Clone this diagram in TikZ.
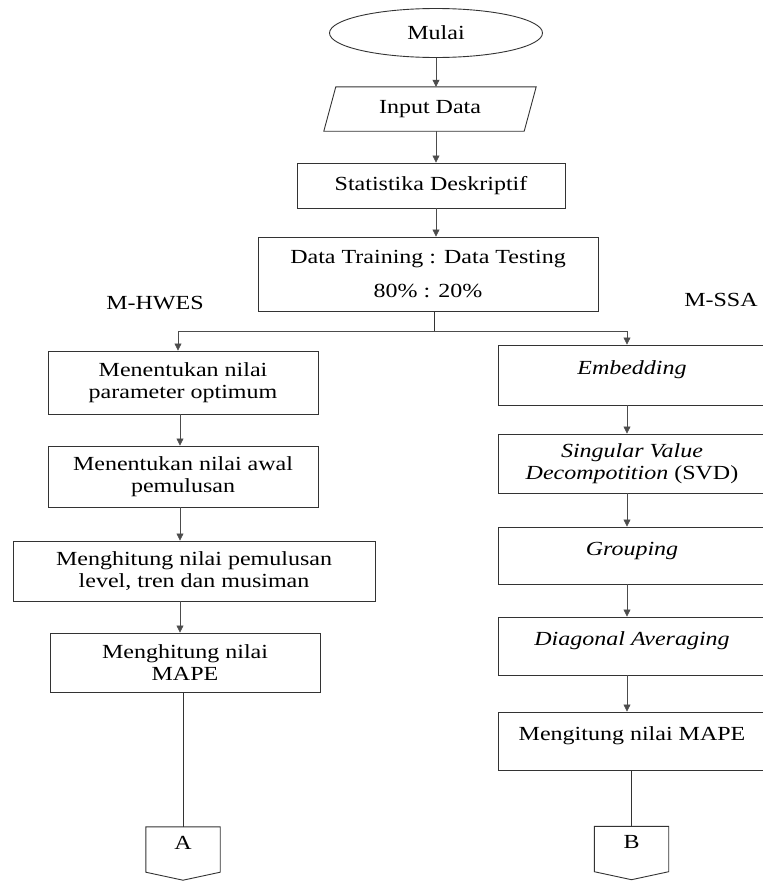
\documentclass[tikz,border=0pt]{standalone}
\usepackage{fontspec}
\setmainfont{Liberation Serif}[FakeStretch=1.2]
\usetikzlibrary{shapes.geometric,arrows.meta,calc}
\begin{document}
\begin{tikzpicture}[x=1pt,y=-1pt,
  every node/.style={font=\fontsize{20}{22}\selectfont, text=black},
  boxl/.style={draw=black!80, line width=0.9pt, rectangle, align=center, inner sep=0pt},
  up/.style={text depth=14pt},
  arr/.style={draw=black!70, line width=0.6pt, -{Triangle[length=7pt,width=7pt]}},
  ln/.style={draw=black!80, line width=0.9pt},
  conn/.style={rectangle, inner sep=0pt, minimum width=74, minimum height=45}
]
\useasboundingbox (0,0) rectangle (763,881);
\clip (0,0) rectangle (763,881);
% top
\node[ellipse, draw=black!80, line width=0.9pt, minimum width=213, minimum height=49, inner sep=0pt] (mulai) at (436,33) {Mulai};
\node[rectangle, inner sep=0pt, minimum width=200, minimum height=44] (input) at (430,109) {Input Data};
\draw[ln] ([xshift=6pt]input.north west) -- ([xshift=6pt]input.north east) -- ([xshift=-6pt]input.south east) -- ([xshift=-6pt]input.south west) -- cycle;
\node[boxl, minimum width=268, minimum height=45] (stat) at (431,185.5) {Statistika Deskriptif};
\node[boxl, minimum width=340, minimum height=74] (data) at (428,274) {Data Training : Data Testing\\[12pt]80\% : 20\%};
\node (mhwes) at (155,303) {M-HWES};
\node (mssa) at (721,300) {M-SSA};
% left column
\node[boxl, minimum width=270, minimum height=63] (l1) at (183,382.5) {Menentukan nilai\\parameter optimum};
\node[boxl, minimum width=270, minimum height=61] (l2) at (183,476.5) {Menentukan nilai awal\\pemulusan};
\node[boxl, minimum width=362, minimum height=60] (l3) at (194,571) {Menghitung nilai pemulusan\\level, tren dan musiman};
\node[boxl, minimum width=270, minimum height=59] (l4) at (185,662.5) {Menghitung nilai\\MAPE};
\node[conn, up] (A) at (183,849.5) {A};
\draw[ln] (A.north west) -- (A.north east) -- (A.south east) -- ([yshift=-8pt]A.south) -- (A.south west) -- cycle;
% right column
\node[boxl, up, minimum width=268, minimum height=60] (r1) at (632,375) {\textit{Embedding}};
\node[boxl, minimum width=268, minimum height=59] (r2) at (632,463.5) {\textit{Singular Value}\\\textit{Decompotition} (SVD)};
\node[boxl, up, minimum width=268, minimum height=57] (r3) at (632,555.5) {\textit{Grouping}};
\node[boxl, up, minimum width=268, minimum height=58] (r4) at (632,646) {\textit{Diagonal Averaging}};
\node[boxl, up, minimum width=268, minimum height=58] (r5) at (632,741) {Mengitung nilai MAPE};
\node[conn, up] (B) at (631.5,849) {B};
\draw[ln] (B.north west) -- (B.north east) -- (B.south east) -- ([yshift=-8pt]B.south) -- (B.south west) -- cycle;
% connectors
\coordinate (split) at (434,331);
\draw[arr] (mulai.south) -- (mulai.south |- input.north);
\draw[arr] (input.south -| mulai.south) -- (mulai.south |- stat.north);
\draw[arr] (stat.south -| mulai.south) -- (mulai.south |- data.north);
\draw[ln] (data.south -| split) -- (split);
\draw[arr] (split) -| ([xshift=-5pt]l1.north);
\draw[arr] (split) -| ([xshift=-5pt]r1.north);
\draw[arr] ([xshift=-3pt]l1.south) -- ([xshift=-3pt]l2.north);
\draw[arr] ([xshift=-3pt]l2.south) -- ([xshift=-3pt]l2.south |- l3.north);
\draw[arr] ([xshift=-3pt]l2.south |- l3.south) -- ([xshift=-3pt]l2.south |- l4.north);
\draw[ln] (l4.south -| A.north) -- (A.north);
\draw[arr] ([xshift=-5pt]r1.south) -- ([xshift=-5pt]r2.north);
\draw[arr] ([xshift=-5pt]r2.south) -- ([xshift=-5pt]r3.north);
\draw[arr] ([xshift=-5pt]r3.south) -- ([xshift=-5pt]r4.north);
\draw[arr] ([xshift=-5pt]r4.south) -- ([xshift=-5pt]r5.north);
\draw[ln] (r5.south -| B.north) -- (B.north);
\end{tikzpicture}
\end{document}
